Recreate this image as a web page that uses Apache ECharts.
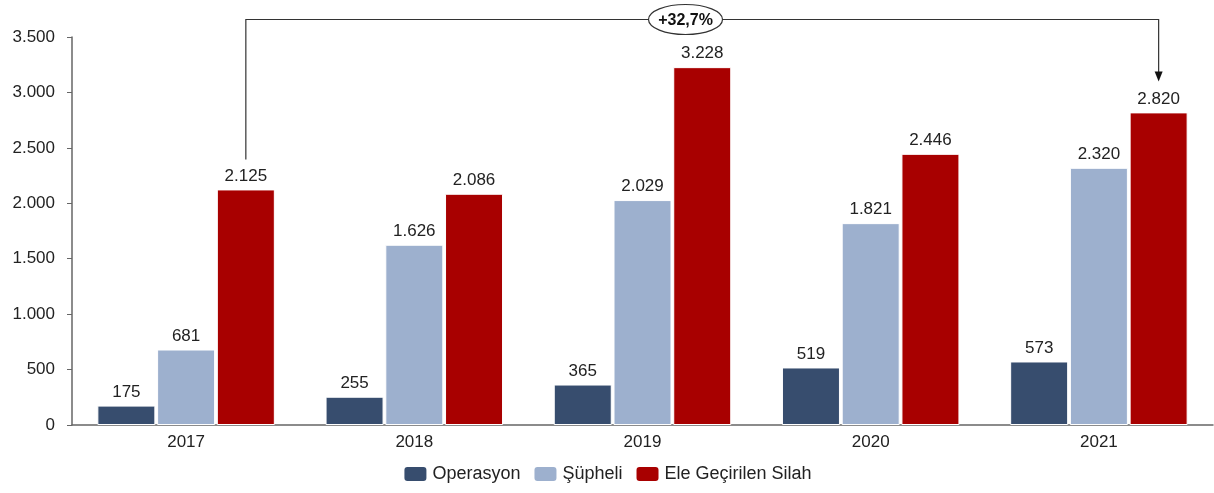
<!DOCTYPE html>
<html>
<head>
<meta charset="utf-8">
<script src="https://cdn.jsdelivr.net/npm/echarts@6/dist/echarts.min.js"></script>
<style>
html,body{margin:0;padding:0;background:#fff;}
#main{width:1214px;height:493px;}
</style>
</head>
<body>
<div id="main"></div>
<script>
var years = ['2017','2018','2019','2020','2021'];
var operasyon = [175,255,365,519,573];
var supheli = [681,1626,2029,1821,2320];
var silah = [2125,2086,3228,2446,2820];
var changeText = '+32,7%';

function fmt(v){
	return String(v).replace(/\B(?=(\d{3})+(?!\d))/g,'.');
}

var font = '"Liberation Sans", Arial, sans-serif';
var mychart = echarts.init(document.getElementById('main'));

function barSeries(name,data,color){
	return {
		name:name,
		type:'bar',
		data:data,
		barWidth:58,
		barGap:'3%',
		itemStyle:{color:color,borderColor:'#fff',borderWidth:1},
		label:{
			show:true,
			position:'top',
			distance:5,
			color:'#222',
			fontSize:17,
			fontFamily:font,
			formatter:function(p){return fmt(p.value);}
		}
	};
}

mychart.setOption({
	animation:false,
	grid:{left:72,right:1,top:37,bottom:68},
	legend:{
		bottom:5,
		left:'center',
		itemWidth:24,
		itemHeight:16,
		itemGap:12,
		textStyle:{fontSize:18,color:'#222',fontFamily:font},
		data:['Operasyon','Şüpheli','Ele Geçirilen Silah']
	},
	xAxis:{
		type:'category',
		data:years,
		axisLine:{lineStyle:{color:'#666',width:1.5}},
		axisTick:{show:false},
		axisLabel:{color:'#222',fontSize:17,fontFamily:font,margin:9}
	},
	yAxis:{
		type:'value',
		min:0,
		max:3500,
		interval:500,
		splitLine:{show:false},
		axisLine:{show:true,lineStyle:{color:'#666',width:1.5}},
		axisTick:{show:true,length:5,lineStyle:{color:'#666'}},
		axisLabel:{color:'#222',fontSize:17,fontFamily:font,margin:17,formatter:fmt}
	},
	series:[
		barSeries('Operasyon',operasyon,'#374D6E'),
		barSeries('Şüpheli',supheli,'#9DB0CE'),
		barSeries('Ele Geçirilen Silah',silah,'#A80000')
	]
});

// annotation bracket from 2017 to 2021 (red bars)
var data = mychart.getModel().getSeriesByIndex(2).getData();
var a = data.getItemLayout(0);
var b = data.getItemLayout(years.length-1);
var x1 = a.x + a.width/2;
var x2 = b.x + b.width/2;
var yTop = 19.5;
var y1 = Math.min(a.y, a.y + a.height) - 30;
var y2 = Math.min(b.y, b.y + b.height) - 31;
var mid = mychart.convertToPixel({xAxisIndex:0},'2019') + 43;
mychart.setOption({
	graphic:[
		{type:'polyline',z:10,shape:{points:[[x1,y1],[x1,yTop],[x2,yTop],[x2,y2-8]]},style:{stroke:'#333',lineWidth:1.2,fill:null}},
		{type:'polygon',z:10,shape:{points:[[x2-4,y2-10],[x2+4,y2-10],[x2,y2]]},style:{fill:'#111'}},
		{type:'ellipse',z:11,shape:{cx:mid,cy:yTop,rx:37,ry:15},style:{fill:'#fff',stroke:'#333',lineWidth:1.2}},
		{type:'text',z:12,x:mid,y:yTop+1,style:{text:changeText,align:'center',verticalAlign:'middle',font:'bold 16px '+font,fill:'#111'}}
	]
});
</script>
</body>
</html>
